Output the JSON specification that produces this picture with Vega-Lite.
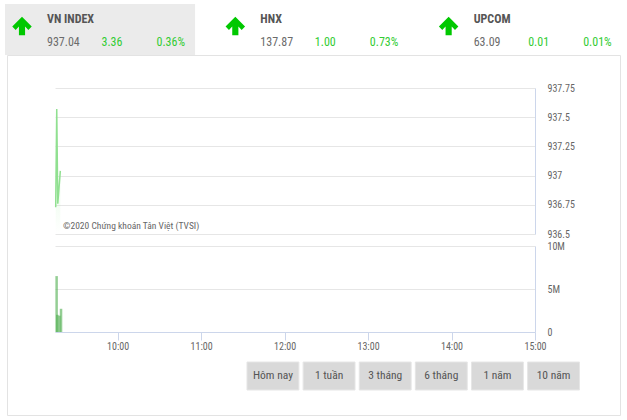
{
  "$schema": "https://vega.github.io/schema/vega-lite/v6.json",
  "padding": 0,
  "background": "white",
  "bounds": "flush",
  "center": true,
  "spacing": 0,
  "config": {
    "font": "Liberation Sans Narrow, Roboto Condensed, Roboto, sans-serif",
    "view": {"stroke": null},
    "axis": {"labelFont": "Liberation Sans Narrow, Roboto Condensed, Roboto, sans-serif", "labelColor": "#666666", "labelFontSize": 10, "gridColor": "#e6e6e6", "domainColor": "#ccd6eb", "tickColor": "#ccd6eb", "title": null}
  },
  "datasets": {
    "indices": [
      {"name": "VN INDEX", "value": 937.04, "change": 3.36, "pct": 0.0036, "active": true},
      {"name": "HNX", "value": 137.87, "change": 1.00, "pct": 0.0073, "active": false},
      {"name": "UPCOM", "value": 63.09, "change": 0.01, "pct": 0.0001, "active": false}
    ],
    "price": [
      {"t": "2020-06-01 09:15:30", "p": 936.73},
      {"t": "2020-06-01 09:16:15", "p": 937.57},
      {"t": "2020-06-01 09:17:00", "p": 936.76},
      {"t": "2020-06-01 09:18:50", "p": 937.04}
    ],
    "volume": [
      {"t": "2020-06-01 09:16:10", "v": 6500000},
      {"t": "2020-06-01 09:16:40", "v": 2000000},
      {"t": "2020-06-01 09:18:10", "v": 1900000},
      {"t": "2020-06-01 09:19:20", "v": 2700000}
    ],
    "buttons": [
      {"label": "Hôm nay"}, {"label": "1 tuần"}, {"label": "3 tháng"}, {"label": "6 tháng"}, {"label": "1 năm"}, {"label": "10 năm"}
    ],
    "credit": [{"label": "©2020 Chứng khoán Tân Việt (TVSI)"}]
  },
  "vconcat": [
    {
      "width": 627,
      "height": 55,
      "data": {"name": "indices"},
      "layer": [
        {
          "transform": [{"filter": "datum.active"}],
          "mark": {"type": "rect", "color": "#ebebeb"},
          "encoding": {
            "x": {"field": "name", "type": "nominal", "sort": null, "scale": {"domain": ["VN INDEX", "HNX", "UPCOM"], "range": [5, 621.7], "paddingInner": 0.109, "paddingOuter": 0}, "axis": null},
            "y": {"datum": "panel", "type": "nominal", "scale": {"range": [4, 55], "paddingInner": 0, "paddingOuter": 0}, "axis": null}
          }
        },
        {
          "mark": {"type": "point", "shape": "M0,-0.9L0.95,0.05L0.62,0.38L0.3,0.06L0.3,0.9L-0.3,0.9L-0.3,0.06L-0.62,0.38L-0.95,0.05Z", "size": 420, "filled": true, "opacity": 1, "color": "#00c800", "xOffset": 17, "yOffset": -1.5},
          "encoding": {"x": {"field": "name", "type": "nominal", "bandPosition": 0}}
        },
        {
          "mark": {"type": "text", "align": "left", "dx": 42, "dy": -8.5, "fontSize": 12, "fontWeight": "bold", "color": "#555555"},
          "encoding": {"x": {"field": "name", "type": "nominal", "bandPosition": 0}, "text": {"field": "name"}}
        },
        {
          "mark": {"type": "text", "align": "left", "dx": 42, "dy": 14.5, "fontSize": 12, "color": "#6b6b6b"},
          "encoding": {"x": {"field": "name", "type": "nominal", "bandPosition": 0}, "text": {"field": "value", "format": ".2f"}}
        },
        {
          "mark": {"type": "text", "align": "left", "dx": 96.5, "dy": 14.5, "fontSize": 12, "color": "#33cc33"},
          "encoding": {"x": {"field": "name", "type": "nominal", "bandPosition": 0}, "text": {"field": "change", "format": ".2f"}}
        },
        {
          "mark": {"type": "text", "align": "left", "dx": 151.5, "dy": 14.5, "fontSize": 12, "color": "#33cc33"},
          "encoding": {"x": {"field": "name", "type": "nominal", "bandPosition": 0}, "text": {"field": "pct", "format": ".2%"}}
        }
      ]
    },
    {
      "width": 613,
      "height": 360,
      "view": {"stroke": "#e3e3e3"},
      "layer": [
        {
          "layer": [
            {
              "data": {"name": "price"},
              "mark": {"type": "area", "color": {"gradient": "linear", "x1": 0, "y1": 0, "x2": 0, "y2": 1, "stops": [{"offset": 0, "color": "rgba(144,238,144,0.45)"}, {"offset": 1, "color": "rgba(144,238,144,0)"}]}},
              "encoding": {
                "x": {"field": "t", "type": "temporal", "scale": {"type": "time", "domain": [{"year": 2020, "month": 6, "date": 1, "hours": 9, "minutes": 15}, {"year": 2020, "month": 6, "date": 1, "hours": 15}], "range": [48, 528], "nice": false, "padding": 0}, "axis": null},
                "y": {"field": "p", "type": "quantitative", "scale": {"domain": [936.5, 937.75], "range": [179, 33], "zero": false, "nice": false}, "axis": {"orient": "left", "offset": -528, "values": [936.5, 936.75, 937, 937.25, 937.5, 937.75], "labelExpr": "'' + datum.value", "ticks": false, "tickSize": 0, "labelPadding": -12, "labelAlign": "left", "domain": true, "grid": true}},
                "y2": {"datum": 936.5}
              }
            },
            {
              "data": {"name": "price"},
              "mark": {"type": "line", "color": "#90e090", "strokeWidth": 1.5},
              "encoding": {
                "x": {"field": "t", "type": "temporal"},
                "y": {"field": "p", "type": "quantitative"}
              }
            },
            {
              "data": {"name": "credit"},
              "mark": {"type": "text", "align": "left", "dx": 8, "dy": -8, "fontSize": 9.5, "color": "#666666"},
              "encoding": {
                "x": {"datum": {"year": 2020, "month": 6, "date": 1, "hours": 9, "minutes": 15}, "type": "temporal"},
                "y": {"datum": 936.5, "type": "quantitative"},
                "text": {"field": "label"}
              }
            }
          ]
        },
        {
          "data": {"name": "volume"},
          "mark": {"type": "bar", "size": 2.5, "color": "#4cae4c", "opacity": 0.6},
          "encoding": {
            "x": {"field": "t", "type": "temporal", "scale": {"type": "time", "domain": [{"year": 2020, "month": 6, "date": 1, "hours": 9, "minutes": 15}, {"year": 2020, "month": 6, "date": 1, "hours": 15}], "range": [48, 528], "nice": false, "padding": 0}, "axis": {"orient": "bottom", "offset": -83, "format": "%H:%M", "values": [{"year": 2020, "month": 6, "date": 1, "hours": 10}, {"year": 2020, "month": 6, "date": 1, "hours": 11}, {"year": 2020, "month": 6, "date": 1, "hours": 12}, {"year": 2020, "month": 6, "date": 1, "hours": 13}, {"year": 2020, "month": 6, "date": 1, "hours": 14}, {"year": 2020, "month": 6, "date": 1, "hours": 15}], "grid": false, "tickSize": 8, "labelPadding": 1, "labelFlush": false, "labelOverlap": false}},
            "y": {"field": "v", "type": "quantitative", "scale": {"domain": [0, 10000000], "range": [277, 191], "nice": false, "padding": 0}, "axis": {"orient": "left", "offset": -528, "values": [0, 5000000, 10000000], "labelExpr": "datum.value === 0 ? '0' : format(datum.value / 1000000, 'd') + 'M'", "ticks": false, "tickSize": 0, "labelPadding": -12, "labelAlign": "left", "domain": true, "grid": true}}
          }
        },
        {
          "data": {"name": "buttons"},
          "layer": [
            {
              "mark": {"type": "rect", "fill": "#d9d9d9", "stroke": "#e6e6e6", "strokeWidth": 1},
              "encoding": {
                "x": {"field": "label", "type": "nominal", "sort": null, "scale": {"range": [240, 572.5], "paddingInner": 0.075, "paddingOuter": 0}, "axis": null},
                "y": {"datum": "btn", "type": "nominal", "scale": {"range": [307, 335], "paddingInner": 0, "paddingOuter": 0}, "axis": null}
              }
            },
            {
              "mark": {"type": "text", "fontSize": 11.5, "color": "#555555"},
              "encoding": {
                "x": {"field": "label", "type": "nominal", "sort": null},
                "y": {"datum": "btn", "type": "nominal"},
                "text": {"field": "label"}
              }
            }
          ]
        }
      ],
      "resolve": {"scale": {"x": "independent", "y": "independent"}, "axis": {"x": "independent", "y": "independent"}}
    }
  ]
}
